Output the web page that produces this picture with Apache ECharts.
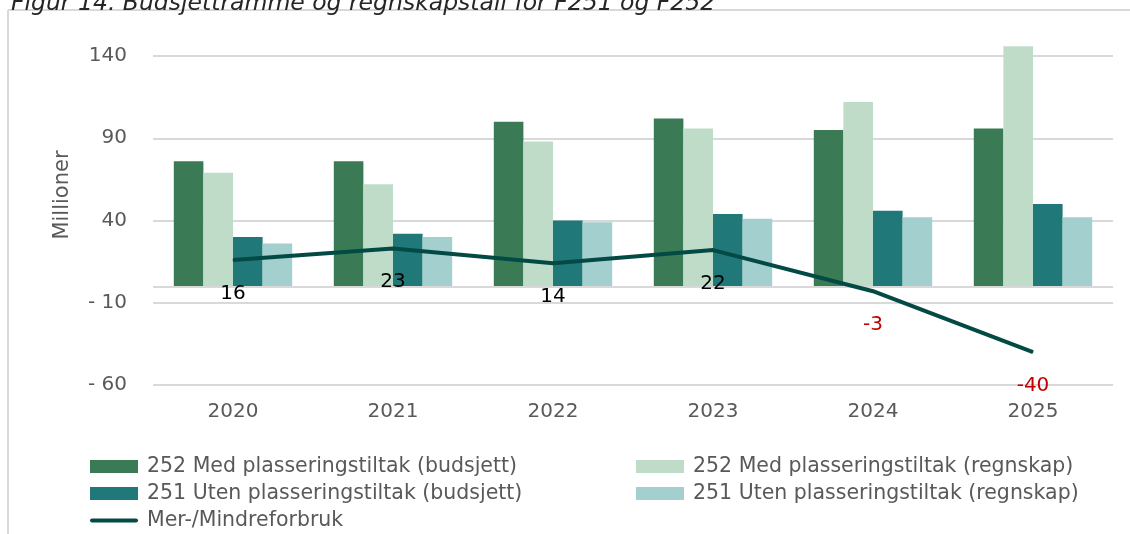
<!DOCTYPE html>
<html>
<head>
<meta charset="utf-8">
<script src="https://cdn.jsdelivr.net/npm/echarts@6/dist/echarts.min.js"></script>
<style>
  html, body { margin: 0; padding: 0; background: #fff; }
  #chart { width: 1130px; height: 534px; }
</style>
</head>
<body>
<div id="chart"></div>
<script>
var years = ["2020", "2021", "2022", "2023", "2024", "2025"];
var med252Budsjett = [76, 76, 100, 102, 95, 96];
var med252Regnskap = [69, 62, 88, 96, 112, 146];
var uten251Budsjett = [30, 32, 40, 44, 46, 50];
var uten251Regnskap = [26, 30, 39, 41, 42, 42];
var merMindre = [16, 23, 14, 22, -3, -40];

var font = "DejaVu Sans";
var grey = "#595959";
var lineColor = "#034a45";

var myChart = echarts.init(document.getElementById("chart"));

function bar(name, values, color) {
  return {
    name: name,
    type: "bar",
    data: values,
    clip: false,
    barGap: "0%",
    barCategoryGap: "26%",
    itemStyle: { color: color },
  };
}

var barSeries = [
  bar("252 Med plasseringstiltak (budsjett)", med252Budsjett, "#3a7b56"),
  bar("252 Med plasseringstiltak (regnskap)", med252Regnskap, "#bfdcc9"),
  bar("251 Uten plasseringstiltak (budsjett)", uten251Budsjett, "#207878"),
  bar("251 Uten plasseringstiltak (regnskap)", uten251Regnskap, "#a4cfcf"),
];

// nulllinje
barSeries[0].markLine = {
  silent: true,
  symbol: "none",
  label: { show: false },
  lineStyle: { color: "#d9d9d9", width: 2, type: "solid" },
  data: [{ yAxis: 0 }],
};

var legendBase = {
  orient: "vertical",
  top: 456,
  padding: 0,
  itemWidth: 48,
  itemHeight: 13,
  itemGap: 6,
  icon: "rect",
  textStyle: { color: grey, fontSize: 20.5, lineHeight: 20, padding: [0, 0, 0, 4] },
};

myChart.setOption({
  animation: false,
  textStyle: { fontFamily: font },
  title: {
    text: "Figur 14. Budsjettramme og regnskapstall for F251 og F252",
    left: 6,
    top: -13,
    textStyle: {
      fontFamily: font,
      fontStyle: "italic",
      fontWeight: "normal",
      fontSize: 23.5,
      color: "#262626",
    },
  },
  graphic: [
    {
      type: "line",
      shape: { x1: 8, y1: 10, x2: 1130, y2: 10 },
      style: { stroke: "#d9d9d9", lineWidth: 2 },
    },
    {
      type: "line",
      shape: { x1: 8, y1: 10, x2: 8, y2: 534 },
      style: { stroke: "#d9d9d9", lineWidth: 2 },
    },
    {
      type: "text",
      x: 63,
      y: 195,
      rotation: Math.PI / 2,
      style: {
        text: "Millioner",
        fill: grey,
        font: "21px " + font,
        align: "center",
        verticalAlign: "middle",
      },
    },
  ],
  legend: [
    Object.assign({}, legendBase, {
      left: 90,
      data: [
        "252 Med plasseringstiltak (budsjett)",
        "251 Uten plasseringstiltak (budsjett)",
        { name: "Mer-/Mindreforbruk", icon: "path://M2,0 H46 A2,2 0 0 1 46,4 H2 A2,2 0 0 1 2,0 Z" },
      ],
    }),
    Object.assign({}, legendBase, {
      left: 636,
      data: [
        "252 Med plasseringstiltak (regnskap)",
        "251 Uten plasseringstiltak (regnskap)",
      ],
    }),
  ],
  grid: { left: 153, right: 17, top: 56, bottom: 149 },
  xAxis: {
    type: "category",
    data: years,
    axisLine: { show: false },
    axisTick: { show: false },
    axisLabel: { color: grey, fontSize: 20, margin: 17 },
  },
  yAxis: {
    type: "value",
    min: -60,
    max: 140,
    interval: 50,
    axisLine: { show: false },
    axisTick: { show: false },
    axisLabel: {
      color: grey,
      fontSize: 20,
      margin: 26,
      formatter: function (v) {
        return v < 0 ? "- " + Math.abs(v) : String(v);
      },
    },
    splitLine: { lineStyle: { color: "#d9d9d9", width: 2 } },
  },
  series: barSeries.concat([
    {
      name: "Mer-/Mindreforbruk",
      type: "line",
      z: 5,
      symbol: "circle",
      symbolSize: 1,
      data: merMindre.map(function (v) {
        return {
          value: v,
          label: { color: v < 0 ? "#c00000" : "#000000" },
        };
      }),
      lineStyle: { color: lineColor, width: 4 },
      itemStyle: { color: lineColor },
      label: {
        show: true,
        position: "bottom",
        distance: 23,
        fontSize: 20,
      },
    },
  ]),
});
</script>
</body>
</html>
